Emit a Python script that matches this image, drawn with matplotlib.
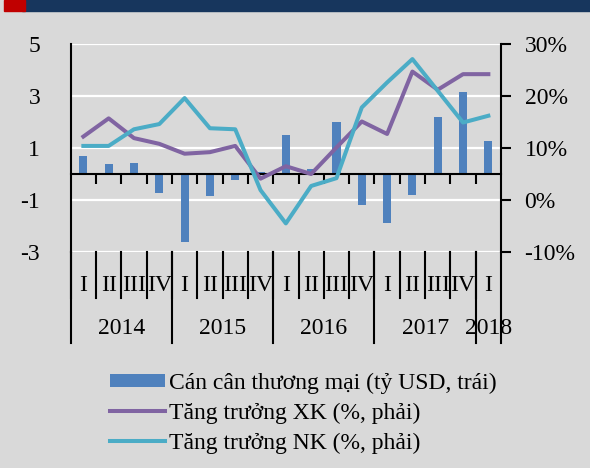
import matplotlib
matplotlib.use("Agg")
import matplotlib.pyplot as plt
import numpy as np

plt.rcParams['font.family'] = ['Liberation Serif', 'DejaVu Serif']

quarters = ["I", "II", "III", "IV", "I", "II", "III", "IV", "I", "II", "III", "IV",
            "I", "II", "III", "IV", "I"]
years = ["2014", "2015", "2016", "2017", "2018"]
year_len = [4, 4, 4, 4, 1]

# can can thuong mai (ty USD), truc trai
balance = [0.68, 0.37, 0.44, -0.74, -2.62, -0.83, -0.23, 0.08, 1.49, 0.18, 1.99,
           -1.18, -1.90, -0.79, 2.18, 3.17, 1.28]
# tang truong XK / NK (%), truc phai
xk = [12.2, 15.7, 11.9, 10.8, 8.9, 9.2, 10.4, 4.1, 6.5, 5.0, 10.1, 15.1, 12.7,
      24.7, 21.2, 24.2, 24.2]
nk = [10.4, 10.4, 13.6, 14.6, 19.6, 13.8, 13.6, 1.9, -4.5, 2.7, 4.2, 17.8, 22.6,
      27.1, 21.0, 14.9, 16.2]

bg = "#D9D9D9"
c_bar = "#4F81BD"
c_xk = "#8064A2"
c_nk = "#4BACC6"
fs = 17

fig = plt.figure(figsize=(5.9, 4.68), dpi=100, facecolor=bg)
ax = fig.add_axes([70.7/590, 1-252/468, (501-70.7)/590, 208/468])
ax.set_facecolor(bg)
ax2 = ax.twinx()

x = np.arange(len(quarters))
ax.bar(x, balance, width=0.32, color=c_bar, zorder=3, label="Cán cân thương mại (tỷ USD, trái)")
ax.set_xlim(-0.5, len(quarters)-0.5)
ax.set_ylim(-3, 5)
ax.set_yticks([5, 3, 1, -1, -3])
ax.set_yticklabels(["5", "3", "1", "-1", "-3"])
ax.tick_params(axis='y', length=0, pad=22, labelsize=fs)
ax.grid(axis='y', color='white', lw=1.6, zorder=0)
ax.set_axisbelow(True)

# truc hoanh tai 0
ax.spines['bottom'].set_position(('data', 0))
ax.spines['bottom'].set_linewidth(1.5)
ax.spines['bottom'].set_zorder(4)
ax.spines['top'].set_visible(False)
ax.spines['right'].set_visible(False)
ax.spines['left'].set_linewidth(1.5)
ax.set_xticks([])
ax.set_xticks(np.arange(0.5, len(quarters)-1, 1), minor=True)
ax.tick_params(axis='x', which='minor', direction='out', length=7, width=1.5, labelbottom=False)

ax2.plot(x, xk, color=c_xk, lw=2.9, zorder=5, label="Tăng trưởng XK (%, phải)")
ax2.plot(x, nk, color=c_nk, lw=2.9, zorder=5, label="Tăng trưởng NK (%, phải)")
ax2.set_ylim(-10, 30)
ax2.set_yticks([30, 20, 10, 0, -10])
ax2.set_yticklabels(["30%", "20%", "10%", "0%", "-10%"])
ax2.tick_params(axis='y', direction='out', length=7, width=1.5, pad=10, labelsize=fs)
for s in ['top', 'bottom', 'left']:
    ax2.spines[s].set_visible(False)
ax2.spines['right'].set_linewidth(1.5)

# nhan truc hoanh nhieu cap
tr = ax.get_xaxis_transform()
for i, q in enumerate(quarters):
    ax.text(i, -0.16, q, transform=tr, ha='center', va='center', fontsize=fs)
    ax.plot([i-0.5, i-0.5], [0, -0.22], transform=tr, color='black', lw=1.5, clip_on=False)
start = 0
for y, n in zip(years, year_len):
    ax.plot([start-0.5, start-0.5], [0, -0.4375], transform=tr, color='black', lw=1.5, clip_on=False)
    ax.text(start + n/2 - 0.5, -0.37, y, transform=tr, ha='center', va='center', fontsize=fs)
    start += n
ax.plot([start-0.5, start-0.5], [0, -0.4375], transform=tr, color='black', lw=1.5, clip_on=False)

# dai tieu de
fig.patches.append(plt.Rectangle((22/590, 1-11/468), 568/590, 11/468, transform=fig.transFigure,
                                 color="#17365D", zorder=0))
fig.patches.append(plt.Rectangle((4/590, 1-11/468), 21/590, 11/468, transform=fig.transFigure,
                                 color="#C00000", zorder=1))

h1, l1 = ax.get_legend_handles_labels()
h2, l2 = ax2.get_legend_handles_labels()
fig.legend(h1+h2, l1+l2, loc='upper left', bbox_to_anchor=(101/590, 1-363/468), frameon=False,
           fontsize=fs, handlelength=2.3, handleheight=0.5, handletextpad=0.2, labelspacing=0.38,
           borderaxespad=0)

fig.savefig("out.png", dpi=100, facecolor=bg)
